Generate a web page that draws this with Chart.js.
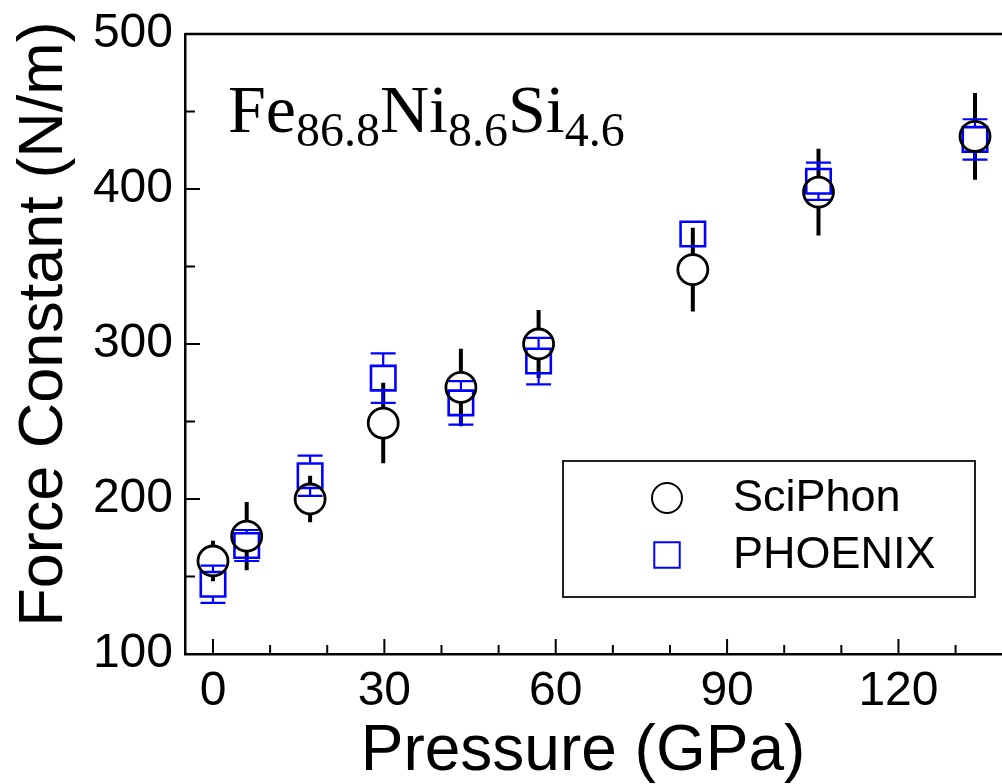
<!DOCTYPE html>
<html>
<head>
<meta charset="utf-8">
<script src="https://cdn.jsdelivr.net/npm/chart.js@4.4.1/dist/chart.umd.min.js"></script>
<style>
  html, body { margin: 0; padding: 0; background: #fff; overflow: hidden; }
  #wrap { width: 1020px; height: 784px; }
</style>
</head>
<body>
<div id="wrap"><canvas id="chart" width="1020" height="784"></canvas></div>
<script>
// Force constant vs pressure for Fe86.8Ni8.6Si4.6 (SciPhon vs PHOENIX)

const PRESSURE = [0, 5.9, 17.0, 29.8, 43.4, 57.0, 84.0, 106.0, 133.4];
const SCIPHON = [160, 176, 200, 249, 272, 300, 348, 398, 434];
const SCIPHON_ERR = [13, 22, 15, 26, 25, 22, 27, 28, 28];
const PHOENIX = [145, 170, 215, 278, 262, 289, 371, 405, 432];
const PHOENIX_ERR = [12, 10, 13, 16, 14, 15, 3, 12, 13];

const X_TICKS = [0, 30, 60, 90, 120];
const X_MINOR = [10, 20, 40, 50, 70, 80, 100, 110, 130];
const Y_TICKS = [100, 200, 300, 400, 500];
const Y_MINOR = [150, 250, 350, 450];

const X_TITLE = "Pressure (GPa)";
const Y_TITLE = "Force Constant (N/m)";

const SANS = "'Liberation Sans', Arial, sans-serif";
const SERIF = "'Liberation Serif', 'Times New Roman', serif";
const BLUE = "#0000ff";

function points(ys) {
  return PRESSURE.map(function(p, i) { return { x: p, y: ys[i] }; });
}

// --- error bars, drawn under the markers, stopping at the marker edge ---

var errorBars = {
  id: "errorBars",
  beforeDatasetsDraw: function(chart) {
    var ctx = chart.ctx;
    var yScale = chart.scales.y;
    chart.data.datasets.forEach(function(ds, i) {
      var meta = chart.getDatasetMeta(i);
      ctx.save();
      ctx.strokeStyle = ds.errColor;
      ctx.lineWidth = ds.errWidth;
      ctx.beginPath();
      meta.data.forEach(function(pt, j) {
        var e = ds.errors[j];
        var top = yScale.getPixelForValue(ds.data[j].y + e);
        var bot = yScale.getPixelForValue(ds.data[j].y - e);
        var half = ds.capWidth / 2;
        if (pt.y - top > ds.gap) {
          ctx.moveTo(pt.x, top);
          ctx.lineTo(pt.x, pt.y - ds.gap);
          if (half) { ctx.moveTo(pt.x - half, top); ctx.lineTo(pt.x + half, top); }
        }
        if (bot - pt.y > ds.gap) {
          ctx.moveTo(pt.x, bot);
          ctx.lineTo(pt.x, pt.y + ds.gap);
          if (half) { ctx.moveTo(pt.x - half, bot); ctx.lineTo(pt.x + half, bot); }
        }
      });
      ctx.stroke();
      ctx.restore();
    });
  }
};

// --- frame: top line, inward major/minor ticks, axis titles ---

var frame = {
  id: "frame",
  afterDraw: function(chart) {
    var ctx = chart.ctx;
    var a = chart.chartArea;
    var x = chart.scales.x, y = chart.scales.y;
    ctx.save();
    ctx.strokeStyle = "#000";
    ctx.lineWidth = 2.5;
    ctx.beginPath();
    ctx.moveTo(a.left, a.top);
    ctx.lineTo(a.right, a.top);
    ctx.lineTo(a.right, a.bottom);
    ctx.stroke();

    ctx.lineWidth = 2;
    ctx.beginPath();
    X_TICKS.forEach(function(v) {
      var px = x.getPixelForValue(v);
      ctx.moveTo(px, a.bottom); ctx.lineTo(px, a.bottom - 15);
    });
    X_MINOR.forEach(function(v) {
      var px = x.getPixelForValue(v);
      ctx.moveTo(px, a.bottom); ctx.lineTo(px, a.bottom - 9);
    });
    Y_TICKS.forEach(function(v) {
      var py = y.getPixelForValue(v);
      ctx.moveTo(a.left, py); ctx.lineTo(a.left + 15, py);
    });
    Y_MINOR.forEach(function(v) {
      var py = y.getPixelForValue(v);
      ctx.moveTo(a.left, py); ctx.lineTo(a.left + 10, py);
    });
    ctx.stroke();

    // axis titles
    ctx.fillStyle = "#000";
    ctx.textAlign = "center";
    ctx.textBaseline = "alphabetic";
    ctx.font = "64px " + SANS;
    ctx.fillText(X_TITLE, a.left + 398, a.bottom + 116);
    ctx.translate(a.left - 123, a.top + 290);
    ctx.rotate(-Math.PI / 2);
    ctx.font = "63px " + SANS;
    ctx.fillText(Y_TITLE, 0, 0);
    ctx.restore();
  }
};

// --- boxed legend inside the plot, lower right ---

var boxLegend = {
  id: "boxLegend",
  afterDraw: function(chart) {
    var ctx = chart.ctx;
    var a = chart.chartArea;
    var bx = a.left + 378, by = a.top + 427, bw = 412, bh = 136;
    ctx.save();
    ctx.strokeStyle = "#222";
    ctx.lineWidth = 2;
    ctx.strokeRect(bx, by, bw, bh);

    chart.data.datasets.forEach(function(ds, i) {
      var cy = by + 37 + i * 57;
      ctx.strokeStyle = ds.borderColor;
      ctx.fillStyle = "rgba(0,0,0,0)";
      Chart.helpers.drawPoint(ctx, {
        pointStyle: ds.pointStyle,
        radius: ds.legendRadius,
        rotation: 0,
        borderWidth: ds.borderWidth
      }, bx + 104, cy);
      ctx.fillStyle = "#000";
      ctx.font = "45px " + SANS;
      ctx.textBaseline = "middle";
      ctx.textAlign = "left";
      ctx.fillText(ds.label, bx + 170, cy + 1);
    });
    ctx.restore();
  }
};

// --- composition label with subscripts ---

var formula = {
  id: "formula",
  afterDraw: function(chart) {
    var ctx = chart.ctx;
    var a = chart.chartArea;
    var parts = [["Fe", false], ["86.8", true], ["Ni", false], ["8.6", true], ["Si", false], ["4.6", true]];
    var x = a.left + 43;
    var base = a.top + 98;
    ctx.save();
    ctx.fillStyle = "#000";
    ctx.textBaseline = "alphabetic";
    ctx.textAlign = "left";
    parts.forEach(function(p) {
      ctx.font = (p[1] ? "48px " : "68px ") + SERIF;
      ctx.fillText(p[0], x, p[1] ? base + 14 : base);
      x += ctx.measureText(p[0]).width;
    });
    ctx.restore();
  }
};

var chart = new Chart(document.getElementById("chart"), {
  type: "scatter",
  data: {
    datasets: [{
      label: "SciPhon",
      data: points(SCIPHON),
      pointStyle: "circle",
      pointRadius: 15,
      legendRadius: 15,
      borderColor: "#000",
      backgroundColor: "rgba(0,0,0,0)",
      borderWidth: 2.8,
      errors: SCIPHON_ERR,
      errColor: "#000",
      errWidth: 4,
      capWidth: 0,
      gap: 15
    }, {
      label: "PHOENIX",
      data: points(PHOENIX),
      pointStyle: "rect",
      pointRadius: 17.3,
      legendRadius: 18,
      borderColor: BLUE,
      backgroundColor: "rgba(0,0,0,0)",
      borderWidth: 2.6,
      errors: PHOENIX_ERR,
      errColor: BLUE,
      errWidth: 2.2,
      capWidth: 25,
      gap: 12.2
    }]
  },
  options: {
    responsive: false,
    animation: false,
    devicePixelRatio: 1,
    layout: { autoPadding: false, padding: { top: 34, right: 13, left: 0, bottom: 0 } },
    plugins: {
      legend: { display: false },
      tooltip: { enabled: false }
    },
    scales: {
      x: {
        type: "linear",
        min: -4.9,
        max: 139,
        grid: { display: false, drawTicks: false },
        border: { display: true, color: "#000", width: 2.5 },
        afterBuildTicks: function(s) { s.ticks = X_TICKS.map(function(v) { return { value: v }; }); },
        afterFit: function(s) { s.height = 130; s.paddingLeft = 0; s.paddingRight = 0; },
        ticks: { color: "#000", font: { family: SANS, size: 48 }, padding: 9, maxRotation: 0, autoSkip: false },
        title: { display: false }
      },
      y: {
        type: "linear",
        min: 100,
        max: 500,
        grid: { display: false, drawTicks: false },
        border: { display: true, color: "#000", width: 2.5 },
        afterBuildTicks: function(s) { s.ticks = Y_TICKS.map(function(v) { return { value: v }; }); },
        afterFit: function(s) { s.width = 185; s.paddingTop = 0; s.paddingBottom = 0; },
        ticks: { color: "#000", font: { family: SANS, size: 48 }, padding: 12, autoSkip: false },
        title: { display: false }
      }
    }
  },
  plugins: [errorBars, frame, boxLegend, formula]
});
</script>
</body>
</html>
